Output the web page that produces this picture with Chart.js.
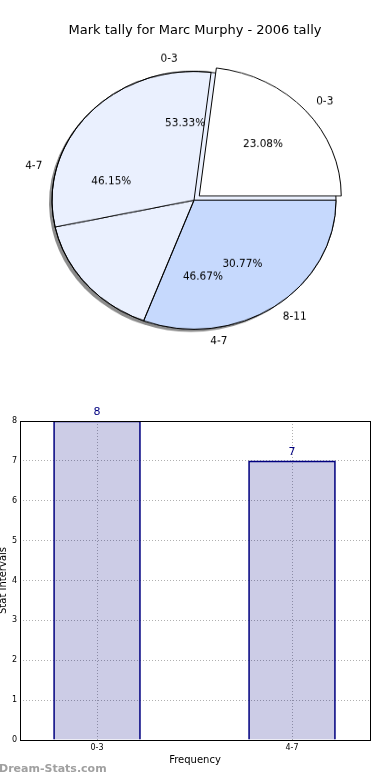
<!DOCTYPE html>
<html>
<head>
<meta charset="utf-8">
<script src="https://cdn.jsdelivr.net/npm/chart.js@4"></script>
<style>
  body { margin: 0; background: #fff; font-family: "DejaVu Sans", sans-serif; }
  #wrap { position: relative; width: 390px; height: 780px; overflow: hidden; }
  #title { position: absolute; top: 22px; left: 0; width: 390px; text-align: center; font-size: 13px; color: #000; }
  /* matplotlib axes were not square: squash the pie a little, text gets un-squashed when drawn */
  .pie { position: absolute; left: 0; top: 0; transform: scaleY(0.908); transform-origin: 0 0; }
  #bars { position: absolute; left: 0; top: 390px; }
  #mark { position: absolute; left: -1px; top: 762px; font-size: 11px; font-weight: bold; color: #a0a0a0; }
</style>
</head>
<body>
<div id="wrap">
  <canvas id="pieA" class="pie" width="390" height="396"></canvas>
  <canvas id="pieB" class="pie" width="390" height="396"></canvas>
  <div id="title">Mark tally for Marc Murphy - 2006 tally</div>
  <canvas id="bars" width="390" height="390"></canvas>
  <div id="mark">Dream-Stats.com</div>
</div>
<script>
// data
var pieCatsA = ['0-3', '4-7'];
var pieValsA = [8, 7];
var pieCatsB = ['0-3', '4-7', '8-11'];
var pieValsB = [3, 6, 4];
var barCats = ['0-3', '4-7'];
var barVals = [8, 7];
var yTicks = [0, 1, 2, 3, 4, 5, 6, 7, 8];

var SQUASH = 0.908;
var explodeA = [0, 0];
var explodeB = [7, 0, 0];

Chart.defaults.font.family = '"DejaVu Sans", sans-serif';

var pies = []; // labels of both pies are drawn on the top canvas

// matplotlib goes counter clockwise from 3 o'clock, chart.js clockwise -> reverse
function rev(a) { return a.slice().reverse(); }

function arcCenter(arc, e) {
  var mid = (arc.startAngle + arc.endAngle) / 2;
  return { mid: mid, x: arc.x + Math.cos(mid) * e, y: arc.y + Math.sin(mid) * e };
}

function text(ctx, t, x, y) {
  ctx.save();
  ctx.translate(x, y);
  ctx.scale(1, 1 / SQUASH);
  ctx.fillText(t, 0, 0);
  ctx.restore();
}

function drawLabels(ctx, chart) {
  var ds = chart.data.datasets[0];
  var ex = chart.options.plugins.explode.values;
  var total = ds.data.reduce(function (a, b) { return a + b; }, 0);
  ctx.save();
  ctx.font = '10.5px "DejaVu Sans"';
  ctx.fillStyle = '#000';
  ctx.textBaseline = 'middle';
  chart.getDatasetMeta(0).data.forEach(function (arc, i) {
    var c = arcCenter(arc, ex[i]);
    var r = arc.outerRadius;
    var cos = Math.cos(c.mid), sin = Math.sin(c.mid);
    ctx.textAlign = cos >= 0 ? 'left' : 'right';
    text(ctx, chart.data.labels[i], c.x + cos * r * 1.1, c.y + sin * r * 1.1);
    ctx.textAlign = 'center';
    text(ctx, (ds.data[i] / total * 100).toFixed(2) + '%', c.x + cos * r * 0.6, c.y + sin * r * 0.6);
  });
  ctx.restore();
}

// draw wedges pulled out like matplotlib's explode (chart.js offset also grows the radius)
var explode = {
  id: 'explode',
  beforeDatasetDraw: function (chart, args, opts) {
    var ctx = chart.ctx;
    var ex = opts.values;
    if (opts.shadow) {
      ctx.save();
      ctx.fillStyle = 'rgba(0,0,0,0.45)';
      args.meta.data.forEach(function (arc, i) {
        var c = arcCenter(arc, ex[i]);
        ctx.beginPath();
        ctx.moveTo(c.x - 3, c.y + 3);
        ctx.arc(c.x - 3, c.y + 3, arc.outerRadius, arc.startAngle, arc.endAngle);
        ctx.closePath();
        ctx.fill();
      });
      ctx.restore();
    }
    args.meta.data.forEach(function (arc, i) {
      var c = arcCenter(arc, ex[i]);
      ctx.save();
      ctx.translate(c.x - arc.x, c.y - arc.y);
      arc.draw(ctx);
      ctx.restore();
    });
    return false;
  },
  afterDatasetsDraw: function (chart, args, opts) {
    if (!opts.labels) return;
    pies.forEach(function (c) { drawLabels(chart.ctx, c || chart); });
  }
};

function pieOptions(ex, shadow, labels) {
  return {
    responsive: false,
    animation: false,
    events: [],
    radius: 142,
    rotation: 90,
    layout: { padding: { left: 10, right: 12, top: 62, bottom: 17 } },
    plugins: {
      legend: { display: false },
      tooltip: { enabled: false },
      explode: { values: rev(ex), shadow: shadow, labels: labels }
    }
  };
}

var chartA = new Chart(document.getElementById('pieA'), {
  type: 'pie',
  data: {
    labels: rev(pieCatsA),
    datasets: [{
      data: rev(pieValsA),
      backgroundColor: '#eaf0fe',
      borderColor: '#000',
      borderWidth: 1,
      clip: false
    }]
  },
  options: pieOptions(explodeA, true, false),
  plugins: [explode]
});
pies = [chartA, null];

new Chart(document.getElementById('pieB'), {
  type: 'pie',
  data: {
    labels: rev(pieCatsB),
    datasets: [{
      data: rev(pieValsB),
      backgroundColor: rev(['#ffffff', 'rgba(0,0,0,0)', '#c6d9fd']),
      borderColor: '#000',
      borderWidth: 1,
      clip: false
    }]
  },
  options: pieOptions(explodeB, false, true),
  plugins: [explode]
});

var barText = {
  id: 'barText',
  afterDatasetsDraw: function (chart) {
    var ctx = chart.ctx;
    ctx.save();
    ctx.font = '11px "DejaVu Sans"';
    ctx.fillStyle = '#000080';
    ctx.textAlign = 'center';
    ctx.textBaseline = 'bottom';
    chart.getDatasetMeta(0).data.forEach(function (bar, i) {
      ctx.fillText(String(barVals[i]), bar.x, bar.y - 3);
    });
    ctx.restore();
  }
};

var frame = {
  id: 'frame',
  afterDraw: function (chart) {
    var a = chart.chartArea;
    var ctx = chart.ctx;
    ctx.save();
    ctx.strokeStyle = '#000';
    ctx.lineWidth = 1;
    ctx.strokeRect(Math.round(a.left) + 0.5, Math.round(a.top) + 0.5, Math.round(a.right - a.left), Math.round(a.bottom - a.top));
    ctx.restore();
  }
};

new Chart(document.getElementById('bars'), {
  type: 'bar',
  data: {
    datasets: [{
      data: barVals.map(function (v, i) { return { x: i, y: v }; }),
      backgroundColor: 'rgba(0,0,128,0.2)',
      borderColor: '#000080',
      borderWidth: 1,
      barThickness: 87
    }]
  },
  options: {
    responsive: false,
    animation: false,
    events: [],
    layout: { padding: { top: 31, right: 20 } },
    plugins: { legend: { display: false }, tooltip: { enabled: false } },
    scales: {
      x: {
        type: 'linear',
        min: -0.395,
        max: 1.4,
        offset: false,
        z: 1,
        afterBuildTicks: function (s) { s.ticks = barCats.map(function (c, i) { return { value: i }; }); },
        afterFit: function (s) { s.height = 40; },
        ticks: {
          callback: function (v) { return barCats[v]; },
          font: { size: 8 },
          color: '#000',
          padding: 3,
          maxRotation: 0,
          autoSkip: false
        },
        grid: { offset: false, drawTicks: false, color: '#b0b0b0' },
        border: { display: false, dash: [1, 2] },
        title: { display: true, text: 'Frequency', color: '#000', font: { size: 10 }, padding: { top: 0, bottom: 14 } }
      },
      y: {
        min: 0,
        max: 8,
        z: 1,
        afterBuildTicks: function (s) { s.ticks = yTicks.map(function (v) { return { value: v }; }); },
        afterFit: function (s) { s.width = 20; },
        ticks: { font: { size: 8 }, color: '#000', padding: 3 },
        grid: { drawTicks: false, color: '#b0b0b0' },
        border: { display: false, dash: [1, 2] },
        title: { display: true, text: 'Stat Intervals', color: '#000', font: { size: 10 }, padding: { top: -3, bottom: 0 } }
      }
    }
  },
  plugins: [barText, frame]
});
</script>
</body>
</html>
